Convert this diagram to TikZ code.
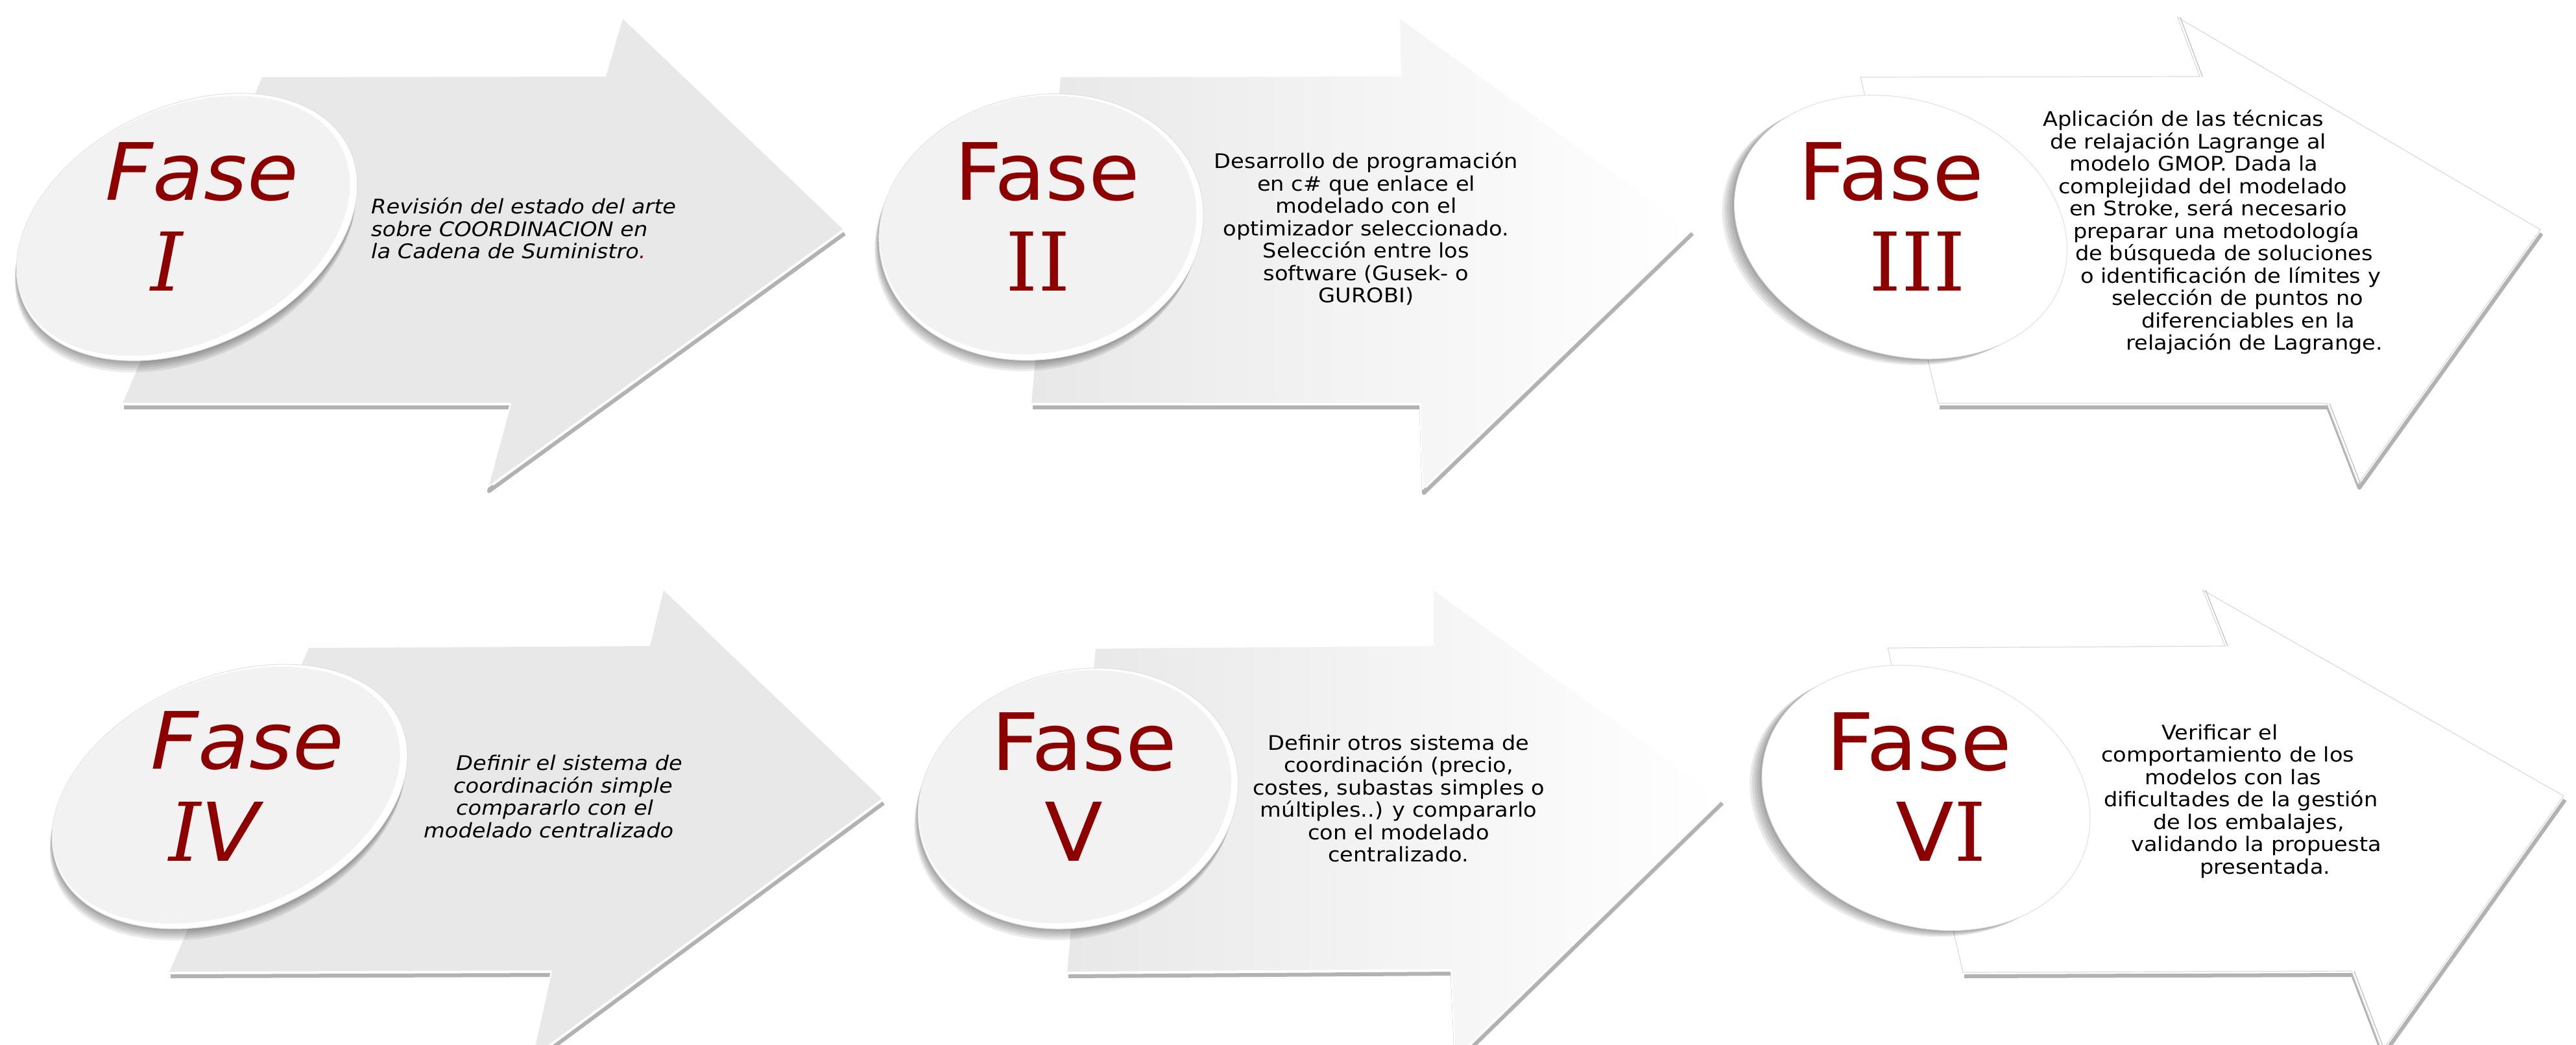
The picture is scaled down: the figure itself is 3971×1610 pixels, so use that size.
\documentclass[tikz,border=0pt]{standalone}
\usepackage{fontspec}
\usepackage{xcolor}
\newfontfamily\phasefont{DejaVu Sans}[FakeStretch=1.05]
\newfontfamily\romanfont{DejaVu Serif}
\newfontfamily\bodyfont{DejaVu Sans}[FakeStretch=1.085]
\definecolor{fasered}{RGB}{140,0,0}
\definecolor{arrowgray}{RGB}{232,232,232}
\definecolor{discgray}{RGB}{242,242,242}

\tikzset{
  fasetext/.style={text=fasered, inner sep=0, anchor=base, font=\phasefont\fontsize{122}{122}\selectfont},
  numtext/.style={text=fasered, inner sep=0, anchor=base, font=\fontsize{125}{125}\selectfont},
  bodytext/.style={inner sep=0, font=\bodyfont\fontsize{31}{34.5}\selectfont},
  edgeshadow/.style={black!30, line width=6, line join=round},
  edgelight/.style={white, line width=2, line join=round},
  whiteedge/.style={draw=black!14, line width=1.2},
  rim/.style={draw=black!12, line width=1},
}

\begin{document}
\begin{tikzpicture}[x=1pt, y=-1pt]
    \useasboundingbox (0,0) rectangle (3971,1610);
    \fill[white] (0,0) rectangle (3971,1610);
    \clip (0,0) rectangle (3971,1610);

    % Fase I
    \draw[edgeshadow, shift={(2,6)}] (189,622) -- (787,622) -- (752,751) -- (1300,354);
    \fill[arrowgray] (404,119) -- (934,118) -- (960,29) -- (1300,354) -- (752,751) -- (787,622) -- (189,622) -- cycle;
    \draw[edgelight] (189,622) -- (787,622) -- (752,751) -- (1300,354);
    \foreach \k in {1,...,5}
        \fill[black, opacity=0.08, rotate around={26:(288,350)}] (288-2*\k,350+3*\k) ellipse [x radius=278, y radius=185];
    \fill[white, rim, rotate around={26:(288,350)}] (288,350) ellipse [x radius=278, y radius=185];
    \fill[discgray, rotate around={26:(288,350)}] (284,346) ellipse [x radius=272, y radius=179];
    \node[fasetext, font=\phasefont\itshape\fontsize{122}{122}\selectfont] (fase1) at (311,308) {Fase};
    \node[numtext, font=\romanfont\itshape\fontsize{125}{125}\selectfont] (num1) at (257,448) {I};
    \node[bodytext, anchor=west, align=left, font=\bodyfont\itshape\fontsize{31}{34.5}\selectfont] (text1) at (572,352)
        {Revisión del estado del arte\\sobre COORDINACION en\\la Cadena de Suministro{\color{fasered}.}};

    % Fase II
    \draw[edgeshadow, shift={(2,6)}] (1590,622) -- (2189,622) -- (2193,754) -- (2607,354);
    \shade[left color=arrowgray, right color=white] (1635,119) -- (2160,118) -- (2158,29) -- (2607,354) -- (2193,754) -- (2189,622) -- (1590,622) -- cycle;
    \draw[edgelight] (1590,622) -- (2189,622) -- (2193,754) -- (2607,354);
    \foreach \k in {1,...,5}
        \fill[black, opacity=0.08, rotate around={12:(1605,350)}] (1605-2*\k,350+3*\k) ellipse [x radius=252, y radius=203];
    \fill[white, rim, rotate around={12:(1605,350)}] (1605,350) ellipse [x radius=252, y radius=203];
    \fill[discgray, rotate around={12:(1605,350)}] (1601,346) ellipse [x radius=246, y radius=197];
    \node[fasetext] (fase2) at (1614,308) {Fase};
    \node[numtext, font=\romanfont\fontsize{125}{125}\selectfont] (num2) at (1600,448) {II};
    \node[bodytext, align=center] (text2) at (2106,353)
        {Desarrollo de programación\\en c\# que enlace el\\modelado con el\\optimizador seleccionado.\\Selección entre los\\software (Gusek- o\\GUROBI)};

    % Fase III
    \draw[edgeshadow, shift={(2,6)}] (2988,622) -- (3587,622) -- (3635,746) -- (3916,354);
    \fill[white, whiteedge] (2868,119) -- (3391,118) -- (3357,27) -- (3916,354) -- (3635,746) -- (3587,622) -- (2988,622) -- cycle;
    \draw[black!25, line width=1.2, shift={(4,0)}] (3357,27) -- (3391,118);
    \draw[black!25, line width=1.2, shift={(4,0)}] (3587,622) -- (3635,746);
    \foreach \k in {1,...,5}
        \fill[black, opacity=0.08, rotate around={-18:(2930,350)}] (2930-3*\k,350+3*\k) ellipse [x radius=262, y radius=196];
    \fill[white, rim, rotate around={-18:(2930,350)}] (2930,350) ellipse [x radius=262, y radius=196];
    \node[fasetext] (fase3) at (2915,308) {Fase};
    \node[numtext, font=\romanfont\fontsize{125}{125}\selectfont] (num3) at (2956,448) {III};
    \node[bodytext, anchor=west, align=left] (text3) at (3149,358)
        {Aplicación de las técnicas\\
         \hspace*{11pt}de relajación Lagrange al\\
         \hspace*{41pt}modelo GMOP. Dada la\\
         \hspace*{24pt}complejidad del modelado\\
         \hspace*{41pt}en Stroke, será necesario\\
         \hspace*{47pt}preparar una metodología\\
         \hspace*{50pt}de búsqueda de soluciones\\
         \hspace*{58pt}o identificación de límites y\\
         \hspace*{106pt}selección de puntos no\\
         \hspace*{152pt}diferenciables en la\\
         \hspace*{128pt}relajación de Lagrange.};

    % Fase IV
    \draw[edgeshadow, shift={(2,6)}] (261,1499) -- (850,1497) -- (820,1631) -- (1360,1232);
    \fill[arrowgray] (476,999) -- (1002,996) -- (1023,910) -- (1360,1232) -- (820,1631) -- (850,1497) -- (261,1499) -- cycle;
    \draw[edgelight] (261,1499) -- (850,1497) -- (820,1631) -- (1360,1232);
    \foreach \k in {1,...,5}
        \fill[black, opacity=0.08, rotate around={23:(354,1228)}] (354-2*\k,1228+3*\k) ellipse [x radius=287, y radius=185];
    \fill[white, rim, rotate around={23:(354,1228)}] (354,1228) ellipse [x radius=287, y radius=185];
    \fill[discgray, rotate around={23:(354,1228)}] (350,1224) ellipse [x radius=281, y radius=179];
    \node[fasetext, font=\phasefont\itshape\fontsize{122}{122}\selectfont] (fase4) at (381,1185) {Fase};
    \node[numtext] (num4) at (330,1327) {{\romanfont\itshape I}{\phasefont\itshape V}};
    \node[bodytext, anchor=west, align=left, font=\bodyfont\itshape\fontsize{31}{34.5}\selectfont] (text4) at (653,1228)
        {\hspace*{50pt}Definir el sistema de\\
         \hspace*{46pt}coordinación simple\\
         \hspace*{50pt}compararlo con el\\
         modelado centralizado};

    % Fase V
    \draw[edgeshadow, shift={(2,6)}] (1645,1499) -- (2237,1495) -- (2243,1632) -- (2653,1232);
    \shade[left color=arrowgray, right color=white] (1689,1000) -- (2210,996) -- (2210,910) -- (2653,1232) -- (2243,1632) -- (2237,1495) -- (1645,1499) -- cycle;
    \draw[edgelight] (1645,1499) -- (2237,1495) -- (2243,1632) -- (2653,1232);
    \foreach \k in {1,...,5}
        \fill[black, opacity=0.08, rotate around={15:(1662,1231)}] (1662-2*\k,1231+3*\k) ellipse [x radius=250, y radius=197];
    \fill[white, rim, rotate around={15:(1662,1231)}] (1662,1231) ellipse [x radius=250, y radius=197];
    \fill[discgray, rotate around={15:(1662,1231)}] (1658,1227) ellipse [x radius=244, y radius=191];
    \node[fasetext] (fase5) at (1671,1187) {Fase};
    \node[numtext, font=\phasefont\fontsize{125}{125}\selectfont] (num5) at (1655,1327) {V};
    \node[bodytext, align=center] (text5) at (2156,1231)
        {Definir otros sistema de\\coordinación (precio,\\costes, subastas simples o\\múltiples..) y compararlo\\con el modelado\\centralizado.};

    % Fase VI
    \draw[edgeshadow, shift={(2,6)}] (3026,1499) -- (3625,1497) -- (3672,1620) -- (3952,1227);
    \fill[white, whiteedge] (2910,999) -- (3430,996) -- (3396,910) -- (3952,1227) -- (3672,1620) -- (3625,1497) -- (3026,1499) -- cycle;
    \draw[black!25, line width=1.2, shift={(4,0)}] (3396,910) -- (3430,996);
    \draw[black!25, line width=1.2, shift={(4,0)}] (3625,1497) -- (3672,1620);
    \foreach \k in {1,...,5}
        \fill[black, opacity=0.08, rotate around={-18:(2969,1230)}] (2969-3*\k,1230+3*\k) ellipse [x radius=258, y radius=198];
    \fill[white, rim, rotate around={-18:(2969,1230)}] (2969,1230) ellipse [x radius=258, y radius=198];
    \node[fasetext] (fase6) at (2958,1187) {Fase};
    \node[numtext] (num6) at (2992,1327) {{\phasefont V}{\romanfont I}};
    \node[bodytext, anchor=west, align=left] (text6) at (3239,1235)
        {\hspace*{93pt}Verificar el\\
         comportamiento de los\\
         \hspace*{67pt}modelos con las\\
         \hspace*{4pt}dificultades de la gestión\\
         \hspace*{80pt}de los embalajes,\\
         \hspace*{46pt}validando la propuesta\\
         \hspace*{152pt}presentada.};
\end{tikzpicture}
\end{document}
